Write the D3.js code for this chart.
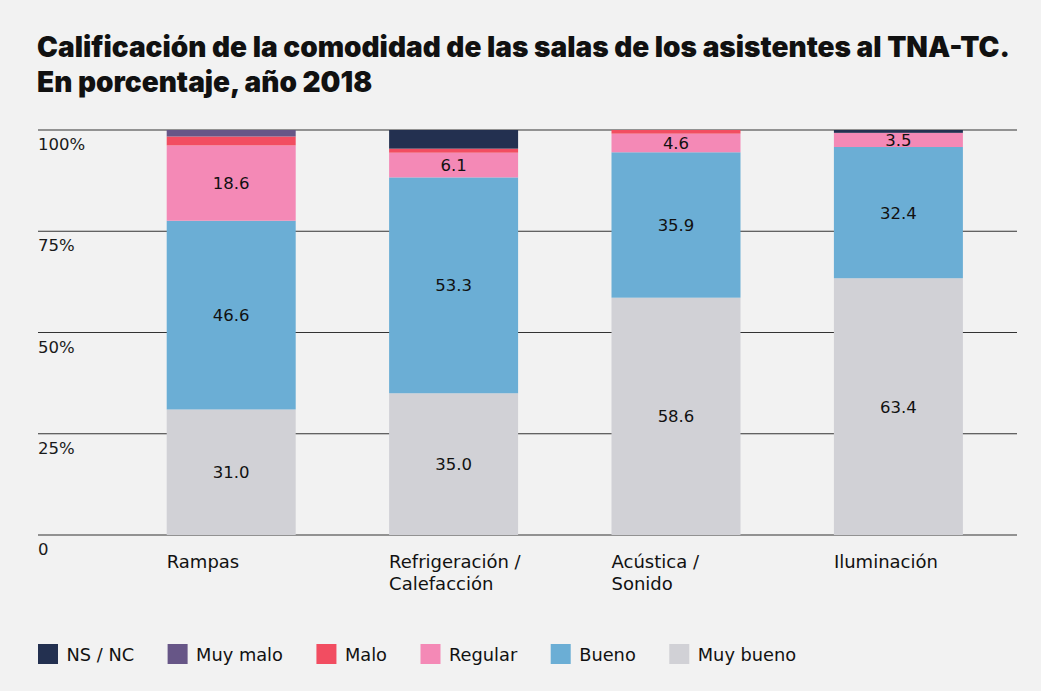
<!DOCTYPE html>
<html><head><meta charset="utf-8">
<script src="https://cdn.jsdelivr.net/npm/d3@7"></script>
<style>
html,body{margin:0;padding:0;background:#f2f2f2;}
svg{display:block;}
</style></head>
<body>
<svg id="c" width="1041" height="691"></svg>
<script>
const categories = [["Rampas"], ["Refrigeración /", "Calefacción"], ["Acústica /", "Sonido"], ["Iluminación"]];
const seriesNames = ["Muy bueno", "Bueno", "Regular", "Malo", "Muy malo", "NS / NC"];
const muyBueno = [31.0, 35.0, 58.6, 63.4];
const bueno = [46.6, 53.3, 35.9, 32.4];
const regular = [18.6, 6.1, 4.6, 3.5];
const malo = [2.2, 1.0, 0.9, 0];
const muyMalo = [1.6, 0, 0, 0];
const nsnc = [0, 4.6, 0, 0.7];
const yTicks = [0, 25, 50, 75, 100];
const yTickLabels = ["0", "25%", "50%", "75%", "100%"];
const legendOrder = ["NS / NC", "Muy malo", "Malo", "Regular", "Bueno", "Muy bueno"];
const labeledSeries = ["Muy bueno", "Bueno", "Regular"];

const colors = {"Muy bueno":"#d1d1d6","Bueno":"#6baed5","Regular":"#f489b6","Malo":"#f24d61","Muy malo":"#675687","NS / NC":"#233050"};
const seriesValues = [muyBueno, bueno, regular, malo, muyMalo, nsnc];

const rows = categories.map((c,i)=>{const r={cat:i}; seriesNames.forEach((s,j)=>r[s]=seriesValues[j][i]); return r;});
const stack = d3.stack().keys(seriesNames)(rows);

const svg = d3.select("#c");
const font = "'DejaVu Sans', 'Open Sans', sans-serif";

// Title
const title = svg.append("text").attr("font-family","Inter, Roboto, sans-serif").attr("font-weight",900).attr("font-size",28).attr("fill","#111");
title.append("tspan").attr("x",37).attr("y",57).text("Calificación de la comodidad de las salas de los asistentes al TNA-TC.");
title.append("tspan").attr("x",37).attr("y",92).text("En porcentaje, año 2018");

const x = d3.scaleBand().domain(d3.range(categories.length)).range([120, 1009.6]).paddingInner(0.42).paddingOuter(0.21);
const y = d3.scaleLinear().domain([0,100]).range([535,130]);

// grid
const g = svg.append("g");
g.selectAll("line.grid").data(yTicks).join("line")
  .attr("x1",38).attr("x2",1017).attr("y1",d=>y(d)).attr("y2",d=>y(d))
  .attr("stroke","#333").attr("stroke-width",1.2);
g.selectAll("text.tick").data(yTicks).join("text")
  .attr("x",38).attr("y",d=>y(d)+20).attr("font-family",font).attr("font-size",16.5).attr("fill","#1a1a1a")
  .text((d,i)=>yTickLabels[i]);

// bars
svg.append("g").selectAll("g").data(stack).join("g").attr("fill",d=>colors[d.key])
  .selectAll("rect").data(d=>d).join("rect")
  .attr("x",d=>x(d.data.cat)).attr("width",x.bandwidth())
  .attr("y",d=>y(d[1])).attr("height",d=>y(d[0])-y(d[1]));

// value labels
const lab = svg.append("g");
stack.filter(s=>labeledSeries.includes(s.key)).forEach(s=>{
  lab.selectAll(null).data(s).join("text")
    .attr("x",d=>x(d.data.cat)+x.bandwidth()/2).attr("y",d=>(y(d[0])+y(d[1]))/2)
    .attr("dy","0.36em").attr("text-anchor","middle").attr("font-family",font).attr("font-size",16.5).attr("fill","#111")
    .text(d=>(d[1]-d[0]).toFixed(1));
});

// category labels
const cl = svg.append("g");
categories.forEach((lines,i)=>{
  const t = cl.append("text").attr("font-family",font).attr("font-size",18).attr("fill","#111");
  lines.forEach((ln,k)=>t.append("tspan").attr("x",x(i)).attr("y",568+k*22).text(ln));
});

// legend
const lg = svg.append("g");
let lx = 38;
legendOrder.forEach(name=>{
  lg.append("rect").attr("x",lx).attr("y",644).attr("width",20).attr("height",20).attr("fill",colors[name]);
  const t = lg.append("text").attr("x",lx+28.5).attr("y",661).attr("font-family",font).attr("font-size",17.8).attr("fill","#111").text(name);
  lx = lx + 28.5 + t.node().getComputedTextLength() + 33.5;
});
</script>
</body></html>
